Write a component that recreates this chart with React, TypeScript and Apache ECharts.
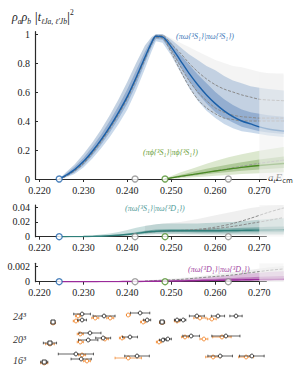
import React, { useEffect, useRef } from "react";
import * as echarts from "echarts";

// ---------- axes ----------
const X_MIN = 0.219;
const X_MAX = 0.2755;
const X_AXIS_END = 0.2717;
const xTicks = [0.22, 0.23, 0.24, 0.25, 0.26, 0.27];
const mainYTicks = [0, 0.2, 0.4, 0.6, 0.8, 1];
const midYTicks = [0, 0.02, 0.04];
const lowYTicks = [0, 0.002];
const Y_MAX = [1.016, 0.0431, 0.00245];

// thresholds (a_t E_cm)
const thresholds = [0.2245, 0.24175, 0.24857, 0.26296];

// ---------- energy grid ----------
const xs = [0.2245, 0.226, 0.228, 0.23, 0.232, 0.234, 0.236, 0.238, 0.24, 0.242, 0.244, 0.2455, 0.2465, 0.248, 0.25, 0.252, 0.254, 0.256, 0.258, 0.26, 0.262, 0.264, 0.266, 0.268, 0.27, 0.272, 0.2755];

// (πω{3S1}|πω{3S1})
const blueMid = [0, 0.025, 0.065, 0.12, 0.19, 0.27, 0.36, 0.46, 0.57, 0.7, 0.84, 0.94, 0.985, 0.98, 0.91, 0.82, 0.73, 0.65, 0.58, 0.52, 0.47, 0.43, 0.4, 0.38, 0.36, 0.345, 0.33];
const blueOutLo = [0, 0.01, 0.035, 0.08, 0.14, 0.21, 0.29, 0.38, 0.48, 0.61, 0.76, 0.88, 0.95, 0.94, 0.85, 0.74, 0.63, 0.54, 0.47, 0.42, 0.38, 0.35, 0.33, 0.32, 0.31, 0.3, 0.29];
const blueOutHi = [0, 0.045, 0.1, 0.17, 0.25, 0.34, 0.44, 0.55, 0.67, 0.8, 0.92, 0.98, 1.0, 1.0, 0.96, 0.91, 0.86, 0.82, 0.78, 0.75, 0.71, 0.68, 0.66, 0.64, 0.63, 0.62, 0.61];
const blueInLo = [0, 0.015, 0.045, 0.095, 0.16, 0.235, 0.32, 0.415, 0.52, 0.65, 0.8, 0.91, 0.965, 0.96, 0.88, 0.78, 0.68, 0.59, 0.52, 0.46, 0.42, 0.39, 0.36, 0.345, 0.33, 0.32, 0.31];
const blueInHi = [0, 0.035, 0.085, 0.145, 0.22, 0.305, 0.4, 0.505, 0.62, 0.75, 0.88, 0.965, 0.995, 0.995, 0.94, 0.86, 0.79, 0.72, 0.66, 0.6, 0.55, 0.51, 0.48, 0.46, 0.45, 0.44, 0.43];
const blueAltA = [0, 0.02, 0.06, 0.115, 0.185, 0.265, 0.355, 0.455, 0.565, 0.695, 0.835, 0.94, 0.99, 0.99, 0.93, 0.87, 0.8, 0.74, 0.69, 0.65, 0.62, 0.6, 0.58, 0.565, 0.55, 0.545, 0.54];
const blueAltB = [0, 0.02, 0.058, 0.11, 0.18, 0.26, 0.35, 0.45, 0.56, 0.69, 0.83, 0.935, 0.98, 0.975, 0.89, 0.78, 0.68, 0.6, 0.54, 0.49, 0.46, 0.44, 0.43, 0.425, 0.42, 0.42, 0.42];
const blueAltC = [0, 0.018, 0.055, 0.105, 0.175, 0.255, 0.345, 0.445, 0.555, 0.685, 0.825, 0.93, 0.975, 0.97, 0.87, 0.75, 0.64, 0.55, 0.49, 0.45, 0.42, 0.41, 0.4, 0.4, 0.4, 0.4, 0.4];
const blueAltHi = [0, 0.045, 0.1, 0.17, 0.25, 0.34, 0.44, 0.55, 0.67, 0.8, 0.92, 0.98, 1.0, 1.0, 0.97, 0.94, 0.91, 0.88, 0.85, 0.82, 0.8, 0.78, 0.77, 0.755, 0.74, 0.73, 0.72];

// (πφ{3S1}|πφ{3S1})
const gx = [0.2485, 0.25, 0.252, 0.255, 0.258, 0.26, 0.263, 0.266, 0.27, 0.2755];
const greenMid = [0, 0.008, 0.018, 0.032, 0.046, 0.055, 0.068, 0.08, 0.093, 0.107];
const greenOutLo = [0, 0.002, 0.006, 0.012, 0.018, 0.022, 0.028, 0.034, 0.04, 0.046];
const greenOutHi = [0, 0.02, 0.045, 0.075, 0.105, 0.125, 0.15, 0.17, 0.195, 0.22];
const greenInLo = [0, 0.005, 0.012, 0.022, 0.032, 0.039, 0.048, 0.057, 0.066, 0.076];
const greenInHi = [0, 0.013, 0.028, 0.05, 0.07, 0.083, 0.1, 0.115, 0.135, 0.155];
const greenAlt = [0, 0.007, 0.016, 0.03, 0.045, 0.056, 0.072, 0.088, 0.108, 0.13];

// (πω{3S1}|πω{3D1})
const tealMid = [0, 0, 0.0001, 0.0002, 0.0004, 0.0007, 0.0012, 0.002, 0.003, 0.0045, 0.006, 0.007, 0.0075, 0.0078, 0.008, 0.008, 0.008, 0.008, 0.008, 0.008, 0.0082, 0.0084, 0.0086, 0.0088, 0.009, 0.0092, 0.0095];
const tealOutLo = [0, 0, 0, 0, 0.0001, 0.0002, 0.0004, 0.0008, 0.0012, 0.002, 0.003, 0.0035, 0.0038, 0.0038, 0.0038, 0.0036, 0.0034, 0.0032, 0.003, 0.003, 0.003, 0.003, 0.003, 0.003, 0.003, 0.003, 0.003];
const tealOutHi = [0, 0.0002, 0.0005, 0.001, 0.0018, 0.003, 0.0045, 0.0065, 0.009, 0.012, 0.0145, 0.016, 0.017, 0.0175, 0.018, 0.018, 0.018, 0.018, 0.0185, 0.019, 0.0195, 0.02, 0.021, 0.022, 0.023, 0.024, 0.025];
const tealInLo = [0, 0, 0.00005, 0.0001, 0.0002, 0.0004, 0.0008, 0.0014, 0.0022, 0.0033, 0.0045, 0.0053, 0.0057, 0.006, 0.006, 0.006, 0.006, 0.0058, 0.0058, 0.0058, 0.0058, 0.0058, 0.006, 0.006, 0.006, 0.006, 0.006];
const tealInHi = [0, 0.0001, 0.0002, 0.0004, 0.0008, 0.0012, 0.002, 0.003, 0.0042, 0.006, 0.008, 0.0092, 0.0098, 0.0102, 0.0105, 0.0105, 0.0105, 0.0105, 0.0108, 0.011, 0.0112, 0.0115, 0.012, 0.0125, 0.013, 0.0135, 0.014];
const dx = [0.244, 0.248, 0.252, 0.256, 0.26, 0.264, 0.268, 0.272, 0.2755];
const tealAltA = [0.006, 0.0078, 0.0085, 0.01, 0.013, 0.018, 0.025, 0.033, 0.039];
const tealAltB = [0.006, 0.0075, 0.008, 0.009, 0.011, 0.014, 0.018, 0.022, 0.026];
const tealAltLo = [0.003, 0.003, 0.003, 0.003, 0.003, 0.003, 0.003, 0.003, 0.003];
const tealAltHi = [0.015, 0.018, 0.02, 0.024, 0.029, 0.034, 0.039, 0.042, 0.043];

// (πω{3D1}|πω{3D1})
const purpMid = [0, 0, 0, 0, 0, 0.000005, 0.00001, 0.000015, 0.00002, 0.00003, 0.00004, 0.00005, 0.00006, 0.00007, 0.00008, 0.0001, 0.00012, 0.00014, 0.00016, 0.00018, 0.0002, 0.00022, 0.00024, 0.00026, 0.00028, 0.0003, 0.00032];
const purpOutLo = [0, 0, 0, 0, 0, 0.000002, 0.000004, 0.000006, 0.000008, 0.00001, 0.000015, 0.00002, 0.000025, 0.00003, 0.000035, 0.00004, 0.00005, 0.00006, 0.00007, 0.00008, 0.00009, 0.0001, 0.00011, 0.00012, 0.00013, 0.00014, 0.00015];
const purpOutHi = [0, 0, 0, 0.000005, 0.00001, 0.00002, 0.00003, 0.00005, 0.00007, 0.0001, 0.00013, 0.00016, 0.00019, 0.00022, 0.00026, 0.00032, 0.0004, 0.00048, 0.00057, 0.00066, 0.00076, 0.00087, 0.00098, 0.0011, 0.0012, 0.0013, 0.0014];
const purpInLo = [0, 0, 0, 0, 0, 0.000003, 0.000007, 0.00001, 0.000014, 0.00002, 0.000027, 0.000034, 0.00004, 0.000047, 0.000055, 0.00007, 0.000085, 0.0001, 0.00011, 0.00012, 0.00014, 0.00015, 0.00016, 0.00017, 0.00018, 0.00019, 0.0002];
const purpInHi = [0, 0, 0, 0.000003, 0.000006, 0.00001, 0.000017, 0.000027, 0.00004, 0.00006, 0.00008, 0.0001, 0.00012, 0.00014, 0.00016, 0.0002, 0.00025, 0.0003, 0.00035, 0.0004, 0.00045, 0.0005, 0.00055, 0.0006, 0.00065, 0.0007, 0.00075];
const purpAlt = [0.0001, 0.0002, 0.0003, 0.0005, 0.0007, 0.0009, 0.0012, 0.0015, 0.0017];
const purpAltLo = [0, 0, 0, 0, 0, 0, 0, 0, 0];
const purpAltHi = [0.0002, 0.0003, 0.0005, 0.0007, 0.001, 0.0013, 0.0016, 0.0019, 0.0021];

// fade region beyond the fitted range
const fadeX = [0.27, 0.2755];

// ---------- finite-volume spectra: [E, err, row, shape(0 circle,1 square)] ----------
const volumes = ["24", "20", "16"];
const spec24Lattice = [[0.2231, 0.0004, 2.8, 1], [0.2297, 0.0019, 1.2, 0], [0.2297, 0.001, 2.4, 0], [0.2347, 0.0025, 1.6, 0], [0.2429, 0.0022, 1.0, 0], [0.2445, 0.0008, 2.4, 0], [0.2479, 0.0005, 2.8, 1], [0.2513, 0.0006, 2.4, 0], [0.2527, 0.0006, 2.4, 0], [0.2558, 0.0017, 1.6, 0], [0.2606, 0.0015, 1.6, 0], [0.2647, 0.0014, 1.6, 0]];
const spec24Recon = [[0.2231, 0.0005, 3.0, 0], [0.2288, 0.0006, 1.6, 0], [0.2283, 0.0006, 2.6, 0], [0.2327, 0.0008, 2.0, 0], [0.2361, 0.0008, 2.0, 0], [0.2402, 0.0004, 1.4, 0], [0.2436, 0.0006, 2.8, 0], [0.2479, 0.0006, 2.9, 0], [0.2513, 0.0006, 2.6, 0], [0.2565, 0.0014, 2.0, 0], [0.2592, 0.001, 2.2, 0]];
const spec20Lattice = [[0.2224, 0.0015, 7.0, 1], [0.2315, 0.0025, 5.0, 0], [0.2311, 0.0022, 6.4, 0], [0.2345, 0.0017, 6.0, 0], [0.2406, 0.0017, 5.8, 0], [0.2481, 0.0008, 6.4, 0], [0.2492, 0.0008, 6.2, 0], [0.2545, 0.0019, 5.6, 0], [0.2624, 0.0032, 5.6, 0]];
const spec20Recon = [[0.2224, 0.001, 7.2, 0], [0.2293, 0.0007, 5.2, 0], [0.2293, 0.0007, 6.8, 0], [0.2349, 0.0008, 6.2, 0], [0.2388, 0.0006, 6.0, 0], [0.2472, 0.0006, 6.8, 0], [0.2531, 0.0008, 5.8, 0], [0.2574, 0.0009, 6.2, 0], [0.2615, 0.0021, 5.8, 0]];
const spec16Lattice = [[0.2211, 0.0008, 10.8, 1], [0.2283, 0.004, 9.2, 0], [0.2295, 0.0023, 10.2, 0], [0.2422, 0.0028, 9.6, 0], [0.2611, 0.0028, 9.6, 0], [0.2683, 0.0028, 9.6, 0]];
const spec16Recon = [[0.2211, 0.0008, 11.0, 0], [0.2297, 0.0008, 9.4, 0], [0.2308, 0.0008, 10.6, 0], [0.2402, 0.003, 10.0, 0], [0.2595, 0.0017, 9.8, 0], [0.267, 0.0017, 9.8, 0]];

// ---------- styling ----------
const SERIF = "'Liberation Serif', 'DejaVu Serif', serif";
const AXIS = "#2a2a2a";
const GRID_LEFT = 35;
const GRID_W = 248.5;

const pairs = (x: number[], y: number[]) => x.map((v, i) => [v, y[i]]);

function band(x: number[], lo: number[], hi: number[], fill: string, gi: number, z: number) {
  return {
    type: "custom",
    xAxisIndex: gi,
    yAxisIndex: gi,
    z,
    silent: true,
    data: [[x[0], lo[0]]],
    renderItem: (_p: any, api: any) => {
      const pts: number[][] = [];
      for (let i = 0; i < x.length; i++) pts.push(api.coord([x[i], hi[i]]));
      for (let i = x.length - 1; i >= 0; i--) pts.push(api.coord([x[i], lo[i]]));
      return { type: "polygon", shape: { points: pts }, style: { fill } };
    },
  };
}

function line(x: number[], y: number[], color: string, gi: number, z: number, width = 1.4, dashed = false) {
  return {
    type: "line",
    xAxisIndex: gi,
    yAxisIndex: gi,
    z,
    silent: true,
    data: pairs(x, y),
    showSymbol: false,
    smooth: 0.3,
    lineStyle: { color, width, type: dashed ? [3, 1.5] : "solid" },
  };
}

function axisBase(gi: number) {
  return {
    type: "line",
    xAxisIndex: gi,
    yAxisIndex: gi,
    data: [],
    silent: true,
    markLine: {
      silent: true,
      symbol: ["none", "none"],
      label: { show: false },
      lineStyle: { color: AXIS, width: 1.2, type: "solid" },
      data: [[{ coord: [X_MIN, 0] }, { coord: [X_AXIS_END, 0] }]],
    },
  };
}

function thresholdDots(gi: number) {
  const cols = ["#1f63ab", "#8c8c8c", "#4f8f2a", "#8c8c8c"];
  return {
    type: "scatter",
    xAxisIndex: gi,
    yAxisIndex: gi,
    z: 10,
    clip: false,
    silent: true,
    symbol: "circle",
    symbolSize: 6,
    data: thresholds.map((t, i) => ({
      value: [t, 0],
      itemStyle: { color: "#fff", borderColor: cols[i], borderWidth: 1.3 },
    })),
  };
}

function spectrum(data: number[][], color: string, z: number) {
  return {
    type: "custom",
    xAxisIndex: 3,
    yAxisIndex: 3,
    z,
    silent: true,
    data,
    renderItem: (_p: any, api: any) => {
      const e = api.value(0), err = api.value(1), row = api.value(2), shape = api.value(3);
      const c = api.coord([e, row]);
      const l = api.coord([e - err, row]);
      const r = api.coord([e + err, row]);
      const ls = { stroke: color, lineWidth: 0.7 };
      const sym =
        shape === 1
          ? { type: "rect", shape: { x: c[0] - 2, y: c[1] - 2, width: 4, height: 4 }, style: { fill: "#fff", stroke: color, lineWidth: 0.9 } }
          : { type: "circle", shape: { cx: c[0], cy: c[1], r: 1.9 }, style: { fill: "#fff", stroke: color, lineWidth: 0.9 } };
      return {
        type: "group",
        children: [
          { type: "line", shape: { x1: l[0], y1: l[1], x2: r[0], y2: r[1] }, style: ls },
          { type: "line", shape: { x1: l[0], y1: l[1] - 1.3, x2: l[0], y2: l[1] + 1.3 }, style: ls },
          { type: "line", shape: { x1: r[0], y1: r[1] - 1.3, x2: r[0], y2: r[1] + 1.3 }, style: ls },
          sym,
        ],
      };
    },
  };
}

const labelFont = { fontFamily: SERIF, fontSize: 10, color: "#222" };

function xAxis(gi: number, showLabels: boolean) {
  return {
    type: "value",
    gridIndex: gi,
    min: X_MIN,
    max: X_MAX,
    show: gi < 3,
    axisLine: { show: false },
    splitLine: { show: false },
    axisTick: { show: showLabels, customValues: xTicks, length: 3, lineStyle: { color: AXIS, width: 1 } },
    axisLabel: { show: showLabels, customValues: xTicks, margin: 6, formatter: (v: number) => v.toFixed(3), ...labelFont },
  };
}

function yAxis(gi: number, ticks: number[] | null, max: number) {
  return {
    type: "value",
    gridIndex: gi,
    min: 0,
    max,
    inverse: gi === 3,
    show: gi < 3,
    axisLine: { show: gi < 3, lineStyle: { color: AXIS, width: 1.2 } },
    splitLine: { show: false },
    axisTick: { show: true, inside: true, length: 3, customValues: ticks || [], lineStyle: { color: AXIS, width: 1 } },
    axisLabel: { show: true, customValues: ticks || [], margin: 5, formatter: (v: number) => String(v), ...labelFont },
  };
}

function tag(text: string, left: number, top: number, color: string) {
  return {
    type: "text",
    left,
    top,
    silent: true,
    style: { text, fill: color, font: `italic 8px ${SERIF}` },
  };
}

export default function App() {
  const ref = useRef<HTMLDivElement>(null);
  useEffect(() => {
    document.body.style.margin = "0";
    if (!ref.current) return;
    const chart = echarts.init(ref.current, null, { renderer: "svg" });
    const fade = "rgba(242,242,242,0.6)";
    const series: any[] = [
      // main panel
      axisBase(0),
      band(xs, blueOutLo, blueOutHi, "rgba(120,160,205,0.4)", 0, 3),
      band(xs, blueAltC, blueAltHi, "rgba(150,150,150,0.1)", 0, 3),
      band(xs, blueInLo, blueInHi, "rgba(70,118,178,0.38)", 0, 3),
      line(xs, blueAltA, "#8a8a8a", 0, 4, 1, true),
      line(xs, blueAltB, "#8a8a8a", 0, 4, 1, true),
      line(xs, blueAltC, "#8a8a8a", 0, 4, 1, true),
      line(xs, blueMid, "#1a5fa8", 0, 6, 1.4),
      band(gx, greenOutLo, greenOutHi, "rgba(140,180,95,0.3)", 0, 3),
      band(gx, greenInLo, greenInHi, "rgba(95,145,55,0.35)", 0, 3),
      line(gx, greenAlt, "#9a9a9a", 0, 4, 1, true),
      line(gx, greenMid, "#4a8a23", 0, 6, 1.4),
      band(fadeX, [0, 0], [0.73, 0.73], fade, 0, 7),
      thresholdDots(0),
      // middle panel
      axisBase(1),
      band(dx, tealAltLo, tealAltHi, "rgba(150,150,150,0.15)", 1, 3),
      band(xs, tealOutLo, tealOutHi, "rgba(80,150,145,0.3)", 1, 3),
      band(xs, tealInLo, tealInHi, "rgba(40,120,115,0.4)", 1, 3),
      line(dx, tealAltA, "#8a8a8a", 1, 4, 1, true),
      line(dx, tealAltB, "#8a8a8a", 1, 4, 1, true),
      line(xs, tealMid, "#2f7f7a", 1, 6, 1.4),
      band(fadeX, [0, 0], [Y_MAX[1], Y_MAX[1]], fade, 1, 7),
      thresholdDots(1),
      // bottom panel
      axisBase(2),
      band(dx, purpAltLo, purpAltHi, "rgba(150,150,150,0.15)", 2, 3),
      band(xs, purpOutLo, purpOutHi, "rgba(175,80,175,0.3)", 2, 3),
      band(xs, purpInLo, purpInHi, "rgba(150,40,150,0.4)", 2, 3),
      line(dx, purpAlt, "#8a8a8a", 2, 4, 1, true),
      line(xs, purpMid, "#9a2a9a", 2, 6, 1.4),
      band(fadeX, [0, 0], [Y_MAX[2], Y_MAX[2]], fade, 2, 7),
      thresholdDots(2),
      // spectra
      spectrum(spec24Recon, "#f07f1f", 3),
      spectrum(spec20Recon, "#f07f1f", 3),
      spectrum(spec16Recon, "#f07f1f", 3),
      spectrum(spec24Lattice, "#222", 4),
      spectrum(spec20Lattice, "#222", 4),
      spectrum(spec16Lattice, "#222", 4),
    ];

    const volTop = [311, 334, 355];
    chart.setOption({
      animation: false,
      backgroundColor: "#fff",
      grid: [
        { left: GRID_LEFT, top: 31.7, width: GRID_W, height: 147.3, containLabel: false, outerBoundsMode: "none" },
        { left: GRID_LEFT, top: 205, width: GRID_W, height: 31.7, containLabel: false, outerBoundsMode: "none" },
        { left: GRID_LEFT, top: 263.3, width: GRID_W, height: 18.4, containLabel: false, outerBoundsMode: "none" },
        { left: GRID_LEFT, top: 308, width: GRID_W, height: 60, containLabel: false, outerBoundsMode: "none" },
      ],
      xAxis: [xAxis(0, true), xAxis(1, true), xAxis(2, true), xAxis(3, false)],
      yAxis: [yAxis(0, mainYTicks, Y_MAX[0]), yAxis(1, midYTicks, Y_MAX[1]), yAxis(2, lowYTicks, Y_MAX[2]), yAxis(3, null, 12)],
      series,
      graphic: [
        {
          type: "text",
          left: 12,
          top: 8,
          silent: true,
          style: {
            text: "{i|ρ}{s|a}{i|ρ}{s|b}{n| |}{i|t}{s|ℓJa, ℓ′Jb}{n||}{p|2}",
            fill: "#222",
            rich: {
              i: { fontFamily: SERIF, fontStyle: "italic", fontSize: 12, lineHeight: 17, verticalAlign: "middle" },
              s: { fontFamily: SERIF, fontStyle: "italic", fontSize: 7.5, lineHeight: 17, verticalAlign: "bottom" },
              n: { fontFamily: SERIF, fontSize: 15, lineHeight: 17, verticalAlign: "middle" },
              p: { fontFamily: SERIF, fontSize: 7.5, lineHeight: 17, verticalAlign: "top" },
            },
          },
        },
        {
          type: "text",
          left: 268,
          top: 171,
          silent: true,
          style: {
            text: "{i|a}{s|t}{i|E}{u|cm}",
            fill: "#222",
            rich: {
              i: { fontFamily: SERIF, fontStyle: "italic", fontSize: 11, lineHeight: 15, verticalAlign: "middle" },
              s: { fontFamily: SERIF, fontStyle: "italic", fontSize: 7, lineHeight: 15, verticalAlign: "bottom" },
              u: { fontFamily: "'DejaVu Sans', sans-serif", fontSize: 7, lineHeight: 15, verticalAlign: "bottom" },
            },
          },
        },
        tag("(πω{³S₁}|πω{³S₁})", 176, 32, "#3b77b8"),
        tag("(πϕ{³S₁}|πϕ{³S₁})", 143, 148, "#6aa03a"),
        tag("(πω{³S₁}|πω{³D₁})", 125, 204, "#4f9b98"),
        tag("(πω{³D₁}|πω{³D₁})", 188, 265, "#a245a2"),
        ...volumes.map((v, i) => ({
          type: "text",
          left: 13,
          top: volTop[i],
          silent: true,
          style: { text: `${v}³`, fill: "#333", font: `italic 10px ${SERIF}` },
        })),
      ],
    });
    return () => chart.dispose();
  }, []);
  return <div ref={ref} style={{ width: 299, height: 371 }} />;
}
